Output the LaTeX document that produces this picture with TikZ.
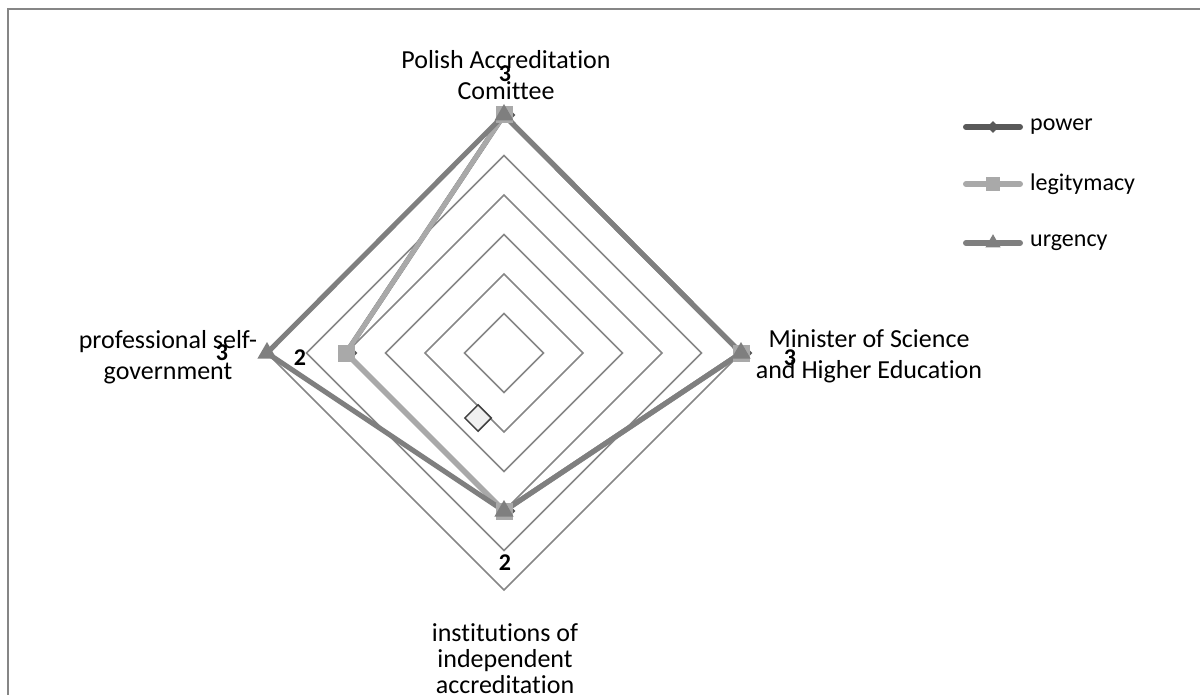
\documentclass[tikz,border=0pt]{standalone}
\usepackage{fontspec}
\setmainfont{Carlito}[Ligatures=NoCommon]
\usetikzlibrary{shapes.geometric,positioning}
\definecolor{gridgray}{HTML}{868686}
\definecolor{powergray}{HTML}{595959}
\definecolor{legitgray}{HTML}{A9A9A9}
\definecolor{urgentgray}{HTML}{7F7F7F}
\definecolor{straygray}{HTML}{F0F0F0}

\tikzset{
    axislabel/.style={align=center, inner sep=0pt, font=\fontsize{26}{31}\selectfont},
    legendlabel/.style={inner sep=0pt, font=\fontsize{24}{29}\selectfont},
    datalabel/.style={inner sep=0pt, font=\fontsize{24}{29}\selectfont\bfseries},
    gridline/.style={draw=gridgray, line width=1.5pt},
    series/.style={line width=5pt, line join=round},
    sqmark/.style={rectangle, fill=legitgray, minimum size=17pt, inner sep=0pt},
    trimark/.style={regular polygon, regular polygon sides=3, fill=urgentgray, minimum size=22pt, inner sep=0pt},
    dmmark/.style={diamond, fill=powergray, minimum size=15pt, inner sep=0pt}
}

\begin{document}
\begin{tikzpicture}[x=1pt, y=-1pt]
    \useasboundingbox (0,0) rectangle (1200,695);

    % Frame
    \draw[gridgray, line width=2pt] (8,700) -- (8,9) -- (1205,9);

    % Grid
    \foreach \r in {1,...,6} {
        \draw[gridline] (504,{353-39.5*\r}) -- ({504+39.5*\r},353) -- (504,{353+39.5*\r}) -- ({504-39.5*\r},353) -- cycle;
    }

    % Data points
    \coordinate (top) at (504,115);
    \coordinate (right) at (741,353);
    \coordinate (bottom) at (504,511);
    \coordinate (left) at (267,353);
    \coordinate (leftmid) at (346,353);

    % Series
    \draw[series, powergray] (top) -- (right) -- (bottom) -- (leftmid) -- cycle;
    \draw[series, legitgray] (top) -- (right) -- (bottom) -- (leftmid) -- cycle;
    \draw[series, urgentgray] (top) -- (right) -- (bottom) -- (left) -- cycle;
    \foreach \p in {top, right, bottom, leftmid} {
        \node[dmmark] at ([xshift=4pt]\p) {};
        \node[sqmark] at (\p) {};
    }
    \foreach \p in {top, right, bottom, left} {
        \node[trimark] at (\p) {};
    }
    \node[diamond, draw=darkgray, fill=straygray, line width=1.5pt, minimum size=27pt, inner sep=0pt] (stray) at (478,418) {};

    % Axis labels
    \node[axislabel] (pac) at (506,75) {Polish Accreditation\\Comittee};
    \node[axislabel] (msh) at (869,356) {Minister of Science\\and Higher Education};
    \node[axislabel] (psg) at (168,357) {professional self-\\government};
    \node[axislabel, font=\fontsize{26}{26}\selectfont] (iia) at (505,659) {institutions of\\independent\\accreditation};

    % Data labels
    \node[datalabel] (vtop) at (505,74) {3};
    \node[datalabel] (vright) at (790,358) {3};
    \node[datalabel] (vleft) at (222,353) {3};
    \node[datalabel] (vleftmid) at (300,358) {2};
    \node[datalabel] (vbottom) at (505,563) {2};

    % Legend
    \foreach \y/\txt/\col/\mk [count=\i] in {127/power/powergray/dmmark, 184/legitymacy/legitgray/sqmark, 243/urgency/urgentgray/trimark} {
        \coordinate (la\i) at (966,\y);
        \coordinate (lb\i) at (1020,\y);
        \draw[\col, line width=6pt, line cap=round] (la\i) -- (lb\i);
        \node[\mk, scale=0.8] (lm\i) at (993,\y) {};
        \node[legendlabel, anchor=west] (lt\i) at (1030,\y) {\txt};
    }
\end{tikzpicture}
\end{document}
